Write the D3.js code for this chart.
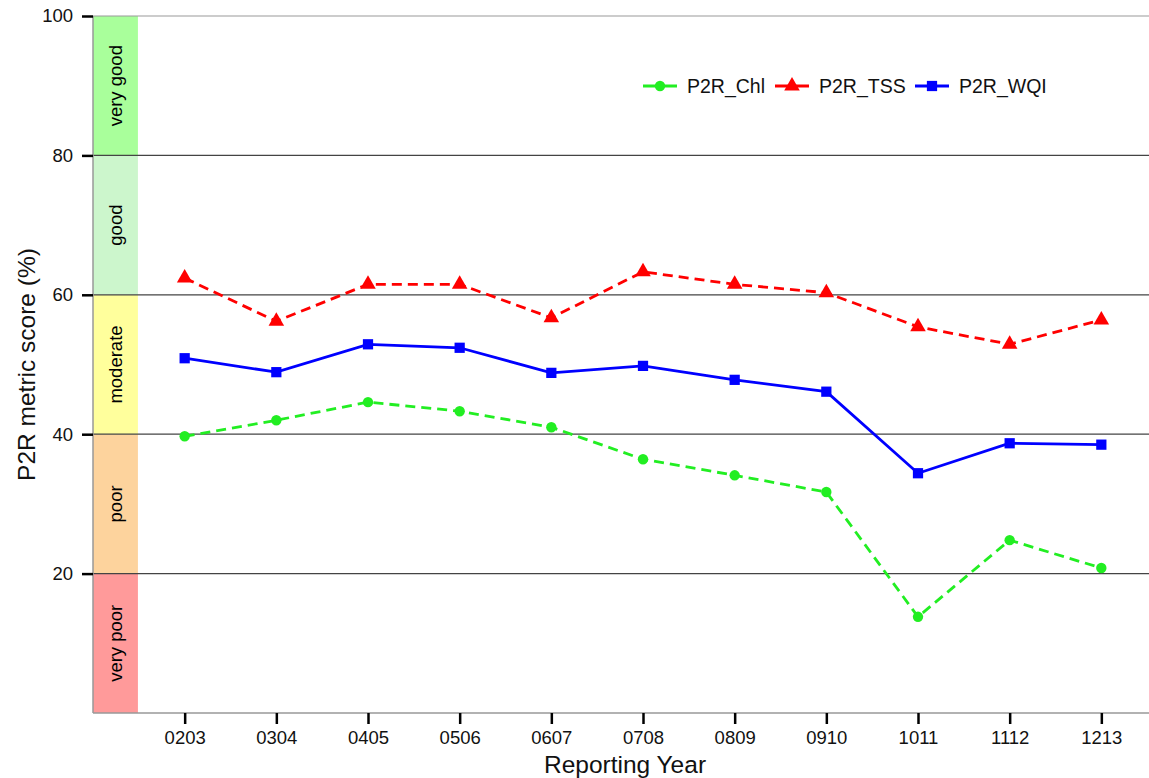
<!DOCTYPE html>
<html>
<head>
<meta charset="utf-8">
<script src="https://cdn.jsdelivr.net/npm/d3@7"></script>
<style>
  html, body { margin: 0; padding: 0; background: #fff; }
  svg { display: block; font-family: "Liberation Sans", Arial, Helvetica, sans-serif; }
</style>
</head>
<body>
<svg id="chart" width="1149" height="778"></svg>
<script>
// Reporting years (categories on the x axis)
const years = ["0203", "0304", "0405", "0506", "0607", "0708", "0809", "0910", "1011", "1112", "1213"];

// Metric scores (%) per reporting year
const chl = [39.7, 42.0, 44.6, 43.3, 41.0, 36.4, 34.1, 31.7, 13.8, 24.8, 20.8];
const tss = [62.4, 56.2, 61.5, 61.5, 56.7, 63.3, 61.5, 60.3, 55.4, 52.9, 56.4];
const wqi = [50.9, 48.9, 52.9, 52.4, 48.8, 49.8, 47.8, 46.1, 34.4, 38.7, 38.5];

// Condition grade bands
const bandLabels = ["very poor", "poor", "moderate", "good", "very good"];
const bandLows = [0, 20, 40, 60, 80];
const bandHighs = [20, 40, 60, 80, 100];
const bandColors = ["#ff9a9a", "#fdd39d", "#ffff9c", "#ccf6cc", "#a9ff9b"];

const yTicks = [20, 40, 60, 80, 100];

const svg = d3.select("#chart");
const margin = { top: 16, right: 0, bottom: 65, left: 93 };
const W = 1149, H = 778;

// x is a positional scale: category i sits at i + 1, band column occupies [0, 0.49]
const x = d3.scaleLinear().domain([0, 11.52]).range([margin.left, W - margin.right]);
const y = d3.scaleLinear().domain([0, 100]).range([H - margin.bottom, margin.top]);

// Background bands
svg.append("g").selectAll("rect").data(bandLabels).join("rect")
  .attr("x", x(0))
  .attr("width", x(0.49) - x(0))
  .attr("y", (d, i) => y(bandHighs[i]))
  .attr("height", (d, i) => y(bandLows[i]) - y(bandHighs[i]))
  .attr("fill", (d, i) => bandColors[i]);

svg.append("g").selectAll("text").data(bandLabels).join("text")
  .attr("transform", (d, i) => `translate(${x(0.245) + 6.5},${y((bandLows[i] + bandHighs[i]) / 2)}) rotate(-90)`)
  .attr("text-anchor", "middle")
  .attr("font-size", 18.5)
  .attr("fill", "#000")
  .text(d => d);

// Horizontal grid lines
svg.append("g").selectAll("line").data(yTicks).join("line")
  .attr("x1", x(0)).attr("x2", W)
  .attr("y1", d => y(d)).attr("y2", d => y(d))
  .attr("stroke", d => d === 100 ? "#999" : "#444")
  .attr("stroke-width", 1.2);

// Axis lines
svg.append("line")
  .attr("x1", x(0)).attr("x2", x(0))
  .attr("y1", y(100)).attr("y2", y(0))
  .attr("stroke", "#999").attr("stroke-width", 1.5);
svg.append("line")
  .attr("x1", x(0)).attr("x2", W)
  .attr("y1", y(0)).attr("y2", y(0))
  .attr("stroke", "#999").attr("stroke-width", 1.5);

// Y axis
const yAxis = svg.append("g")
  .attr("transform", `translate(${x(0)},0)`)
  .call(d3.axisLeft(y).tickValues(yTicks).tickSize(11).tickPadding(9));
yAxis.select(".domain").remove();
yAxis.selectAll(".tick line").attr("stroke", "#000").attr("stroke-width", 2.5);
yAxis.selectAll(".tick text").attr("font-size", 18.5).attr("fill", "#111")
  .attr("font-family", "Liberation Sans, Arial, sans-serif");

// X axis
const xAxis = svg.append("g")
  .attr("transform", `translate(0,${y(0)})`)
  .call(d3.axisBottom(x).tickValues(d3.range(1, years.length + 1))
    .tickFormat(d => years[d - 1]).tickSize(11).tickPadding(7));
xAxis.select(".domain").remove();
xAxis.selectAll(".tick line").attr("stroke", "#000").attr("stroke-width", 2.5);
xAxis.selectAll(".tick text").attr("font-size", 18.5).attr("fill", "#111")
  .attr("font-family", "Liberation Sans, Arial, sans-serif");

// Axis titles
svg.append("text")
  .attr("x", 625).attr("y", 773)
  .attr("text-anchor", "middle")
  .attr("font-size", 24.5).attr("fill", "#111")
  .text("Reporting Year");
svg.append("text")
  .attr("transform", `translate(35,${y(50)}) rotate(-90)`)
  .attr("text-anchor", "middle")
  .attr("font-size", 24.5).attr("fill", "#111")
  .text("P2R metric score (%)");

// Series
const series = [
  { name: "P2R_Chl", values: chl, color: "#22ee22", dash: "10,6", shape: d3.symbolCircle, size: 85 },
  { name: "P2R_TSS", values: tss, color: "#ff0000", dash: "10,6", shape: d3.symbolTriangle, size: 105 },
  { name: "P2R_WQI", values: wqi, color: "#0000ff", dash: null, shape: d3.symbolSquare, size: 105 }
];

const line = d3.line().x((d, i) => x(i + 1)).y(d => y(d));

series.forEach(s => {
  svg.append("path")
    .datum(s.values)
    .attr("d", line)
    .attr("fill", "none")
    .attr("stroke", s.color)
    .attr("stroke-width", 2.8)
    .attr("stroke-dasharray", s.dash);
  svg.append("g").selectAll("path").data(s.values).join("path")
    .attr("transform", (d, i) => `translate(${x(i + 1)},${y(d)})`)
    .attr("d", d3.symbol().type(s.shape).size(s.size))
    .attr("fill", s.color);
});

// Legend
const legendX = [643, 775, 915];
const legend = svg.append("g");
series.forEach((s, i) => {
  const g = legend.append("g").attr("transform", `translate(${legendX[i]},86)`);
  g.append("line").attr("x1", 0).attr("x2", 34).attr("y1", 0).attr("y2", 0)
    .attr("stroke", s.color).attr("stroke-width", 2.8);
  g.append("path").attr("transform", "translate(17,0)")
    .attr("d", d3.symbol().type(s.shape).size(s.size)).attr("fill", s.color);
  g.append("text").attr("x", 44).attr("y", 7)
    .attr("font-size", 19.5).attr("fill", "#111").text(s.name);
});
</script>
</body>
</html>
